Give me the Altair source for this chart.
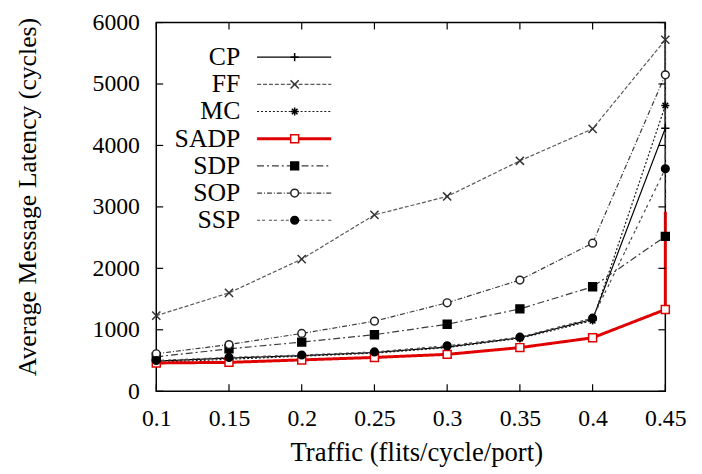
import altair as alt
import pandas as pd

# ---- data ----
traffic = [0.1, 0.15, 0.2, 0.25, 0.3, 0.35, 0.4, 0.45]
series = ["CP", "FF", "MC", "SADP", "SDP", "SOP", "SSP"]

cp = [490, 540, 580, 630, 720, 870, 1170, 4280]
ff = [1230, 1600, 2150, 2870, 3170, 3750, 4270, 5720]
mc = [470, 520, 570, 620, 710, 860, 1150, 4650]
sadp = [460, 470, 510, 550, 600, 710, 870, 1330]
sdp = [560, 690, 800, 920, 1090, 1340, 1700, 2520]
sop = [610, 760, 940, 1140, 1440, 1810, 2410, 5150]
ssp = [500, 550, 590, 640, 740, 880, 1190, 3620]
values = {"CP": cp, "FF": ff, "MC": mc, "SADP": sadp, "SDP": sdp, "SOP": sop, "SSP": ssp}

# the curves leave the plot vertically at x = 0.45 (drawn up along the border)
end_value = {"CP": 6000, "FF": 6000, "MC": 6000, "SADP": 2920, "SDP": 6000, "SOP": 6000, "SSP": 6000}

x_ticks = [0.1, 0.15, 0.2, 0.25, 0.3, 0.35, 0.4, 0.45]
y_ticks = [0, 1000, 2000, 3000, 4000, 5000, 6000]

# ---- styles ----
FONT = "Liberation Serif"
line_colors = ["#000000", "#5a5a5a", "#1a1a1a", "#e00000", "#3a3a3a", "#3a3a3a", "#4a4a4a"]
dashes = [[1, 0], [4, 2], [2, 2], [1, 0], [7, 3, 2, 3], [5, 2, 1, 2], [3, 2, 3, 4]]
widths = {"CP": 1.2, "FF": 1.2, "MC": 1.2, "SADP": 3.0, "SDP": 1.2, "SOP": 1.2, "SSP": 1.2}
shapes = [
    "M-1,0L1,0M0,-1L0,1",
    "M-1,-1L1,1M-1,1L1,-1",
    "M-1,0L1,0M0,-1L0,1M-0.7,-0.7L0.7,0.7M-0.7,0.7L0.7,-0.7",
    "square",
    "square",
    "circle",
    "circle",
]
sizes = [70, 60, 55, 75, 100, 60, 45]
mk_stroke = ["#000000", "#333333", "#000000", "#e00000", "#000000", "#222222", "#000000"]
mk_fill = ["transparent", "transparent", "transparent", "#ffffff", "#000000", "#ffffff", "#000000"]

rows = []
for s in series:
    for i, (xv, yv) in enumerate(zip(traffic, values[s])):
        rows.append({"series": s, "x": xv, "y": yv, "i": i, "marker": True, "w": widths[s]})
    rows.append({"series": s, "x": traffic[-1], "y": end_value[s], "i": len(traffic),
                 "marker": False, "w": widths[s]})
df = pd.DataFrame(rows)

xscale = alt.Scale(domain=[0.1, 0.45], nice=False, zero=False)
yscale = alt.Scale(domain=[0, 6000], nice=False)

color_enc = alt.Color("series:N", scale=alt.Scale(domain=series, range=line_colors), legend=None)
dash_enc = alt.StrokeDash("series:N", scale=alt.Scale(domain=series, range=dashes), legend=None)
width_enc = alt.StrokeWidth("w:Q", scale=None, legend=None)
shape_enc = alt.Shape("series:N", scale=alt.Scale(domain=series, range=shapes), legend=None)
size_enc = alt.Size("series:N", scale=alt.Scale(domain=series, range=sizes), legend=None)
stroke_enc = alt.Stroke("series:N", scale=alt.Scale(domain=series, range=mk_stroke), legend=None)
fill_enc = alt.Fill("series:N", scale=alt.Scale(domain=series, range=mk_fill), legend=None)

W, H = 515, 373

base = alt.Chart(df)

lines = base.mark_line(clip=False).encode(
    x=alt.X("x:Q", scale=xscale, axis=alt.Axis(
        values=x_ticks, format="~g", ticks=False, domain=False, grid=False, labelFlush=False,
        labelFont=FONT, labelFontSize=24, labelColor="black", labelPadding=16,
        title="Traffic (flits/cycle/port)", titleFont=FONT, titleFontSize=27,
        titleFontWeight="normal", titleColor="black", titleX=263, titleY=70,
        titleAlign="center", titleBaseline="alphabetic")),
    y=alt.Y("y:Q", scale=yscale, axis=alt.Axis(
        values=y_ticks, format="d", ticks=False, domain=False, grid=False, labelFlush=False,
        labelFont=FONT, labelFontSize=24, labelColor="black", labelPadding=17,
        title="Average Message Latency (cycles)", titleFont=FONT, titleFontSize=26,
        titleFontWeight="normal", titleColor="black", titleX=-130, titleY=176,
        titleAngle=270, titleAlign="center", titleBaseline="middle")),
    color=color_enc,
    strokeDash=dash_enc,
    strokeWidth=width_enc,
    order="i:Q",
)

points = base.transform_filter("datum.marker").mark_point(opacity=1, strokeWidth=1.5, clip=False).encode(
    x=alt.X("x:Q", scale=xscale),
    y=alt.Y("y:Q", scale=yscale, axis=None),
    shape=shape_enc,
    size=size_enc,
    stroke=stroke_enc,
    fill=fill_enc,
)

# inward tick marks on all four sides (gnuplot style)
xt = alt.Chart(pd.DataFrame({"v": x_ticks}))
yt = alt.Chart(pd.DataFrame({"v": y_ticks}))
xt_bottom = xt.mark_rule(color="black", strokeWidth=1.2).encode(
    x=alt.X("v:Q", scale=xscale), y=alt.value(H), y2=alt.value(H - 7))
xt_top = xt.mark_rule(color="black", strokeWidth=1.2).encode(
    x=alt.X("v:Q", scale=xscale), y=alt.value(0), y2=alt.value(7))
yt_left = yt.mark_rule(color="black", strokeWidth=1.2).encode(
    y=alt.Y("v:Q", scale=yscale, axis=None), x=alt.value(0), x2=alt.value(7))
yt_right = yt.mark_rule(color="black", strokeWidth=1.2).encode(
    y=alt.Y("v:Q", scale=yscale, axis=None), x=alt.value(W), x2=alt.value(W - 7))

# legend (inside, top-left; labels on the left of the samples)
leg = alt.Chart(pd.DataFrame({"series": series, "w": [widths[s] for s in series]}))
leg_y = alt.Y("series:N", scale=alt.Scale(type="point", domain=series, range=[35, 200], padding=0), axis=None)
leg_text = leg.mark_text(align="right", baseline="middle", font=FONT, fontSize=26, color="black").encode(
    x=alt.value(85), y=leg_y, text="series:N")
leg_rule = leg.mark_rule().encode(
    x=alt.value(102), x2=alt.value(177), y=leg_y,
    color=color_enc, strokeDash=dash_enc, strokeWidth=width_enc)
leg_pts = leg.mark_point(opacity=1, strokeWidth=1.5).encode(
    x=alt.value(140), y=leg_y, shape=shape_enc, size=size_enc, stroke=stroke_enc, fill=fill_enc)

chart = alt.layer(
    lines, points, xt_bottom, xt_top, yt_left, yt_right, leg_text, leg_rule, leg_pts
).resolve_scale(y="independent").properties(
    width=W, height=H,
    autosize=alt.AutoSizeParams(type="none"),
    padding={"left": 150, "top": 12, "right": 29, "bottom": 80},
    background="white",
).configure_view(stroke="black", strokeWidth=1.5)

chart.save("out.html", embed_options={"renderer": "svg", "actions": False})
